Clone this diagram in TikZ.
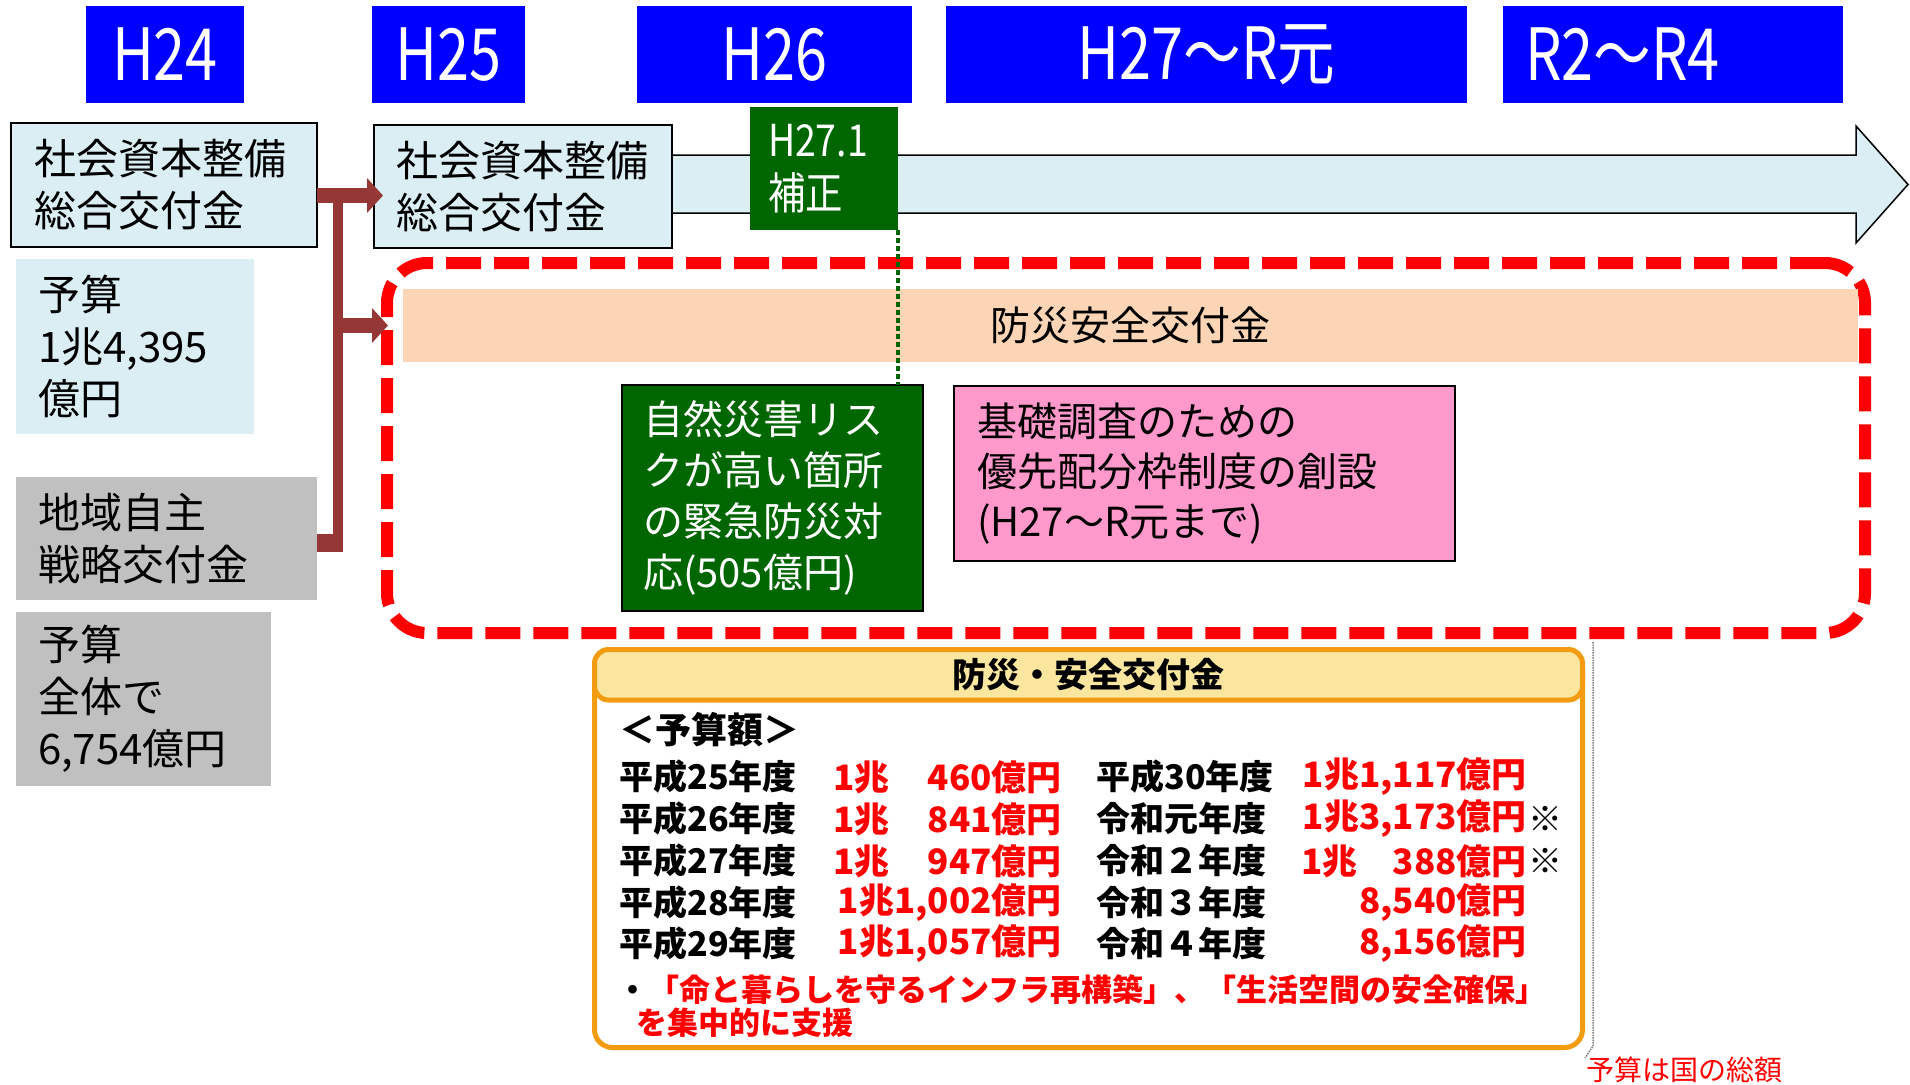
\documentclass[tikz,border=0pt]{standalone}
\usepackage{fontspec}
\setmainfont{Noto Sans CJK JP}
\newfontfamily\narrowjp[FakeStretch=0.85]{Noto Sans CJK JP}
\newfontfamily\yearjp[FakeStretch=0.8]{Noto Sans CJK JP}
\usetikzlibrary{arrows.meta}

\definecolor{yearblue}{RGB}{0,0,255}
\definecolor{paleblue}{RGB}{218,238,243}
\definecolor{boxgray}{RGB}{192,192,192}
\definecolor{darkgreen}{RGB}{0,102,0}
\definecolor{peach}{RGB}{251,213,181}
\definecolor{kisopink}{RGB}{255,153,204}
\definecolor{linkbrown}{RGB}{149,55,53}
\definecolor{frameorange}{RGB}{243,156,18}
\definecolor{headyellow}{RGB}{251,230,160}

\tikzset{every picture/.style={line width=0.75pt}}

\begin{document}
\begin{tikzpicture}[x=1pt,y=1pt,yscale=-1,
  yearbox/.style={anchor=north west, fill=yearblue, text=white, inner sep=0pt, outer sep=0pt, minimum height=97, font=\yearjp\fontsize{72}{72}\selectfont},
  infobox/.style={anchor=north west, align=left, inner ysep=0pt, outer sep=0pt, font=\fontsize{42}{52}\selectfont},
  dashframe/.style={anchor=north west, draw=red, line width=12, dash pattern=on 35pt off 13pt, rounded corners=40pt, inner sep=0pt, outer sep=0pt},
  feed/.style={linkbrown, line width=15, -{Triangle[length=16pt,width=34pt]}},
  trunk/.style={linkbrown, line width=10},
  stub/.style={linkbrown, line width=18},
  leader/.style={darkgreen, line width=4.5, dash pattern=on 4.5pt off 3.5pt},
  rowlab/.style={anchor=west, inner sep=0pt, font=\bfseries\fontsize{34}{34}\selectfont},
  rowval/.style={rowlab, text=red, font=\bfseries\fontsize{35}{35}\selectfont}]
	\useasboundingbox (0,0) rectangle (1910,1084);

	%Shape: Right Arrow [id:timeline]
	\draw [fill=paleblue, line width=1.5] (600,155) -- (1856,155) -- (1856,126) -- (1908,184.5) -- (1856,243) -- (1856,213) -- (600,213) -- cycle ;

	% Text Node
	\node (h24) [yearbox, minimum width=158] at (86,6) {H24};
	% Text Node
	\node (h25) [yearbox, minimum width=153] at (372,6) {H25};
	% Text Node
	\node (h26) [yearbox, minimum width=275] at (637,6) {H26};
	% Text Node
	\node (h27) [yearbox, minimum width=521] at (946,6) {H27～R元};
	% Text Node
	\node (r2) [yearbox, text width=296, inner xsep=22, align=left] at (1503,6) {R2～R4};

	% Text Node
	\node (cs1) [infobox, fill=paleblue, draw, line width=2, minimum height=124, text width=260, inner xsep=23] at (11,123) {社会資本整備\\総合交付金};
	% Text Node
	\node (cs2) [infobox, fill=paleblue, draw, line width=2, minimum height=123, text width=254, inner xsep=22] at (374,125) {社会資本整備\\総合交付金};
	% Text Node
	\node (hosei) [infobox, fill=darkgreen, text=white, minimum height=123, text width=112, inner xsep=18, font=\narrowjp\fontsize{44}{53}\selectfont] at (750,107) {H27.1\\補正};

	% Text Node
	\node (yosan1) [infobox, fill=paleblue, minimum height=175, text width=194, inner xsep=22, font=\fontsize{42}{52}\selectfont] at (16,259) {予算\\1兆4,395\\億円};
	% Text Node
	\node (chiiki) [infobox, fill=boxgray, minimum height=123, text width=257, inner xsep=22] at (16,477) {地域自主\\戦略交付金};
	% Text Node
	\node (yosan2) [infobox, fill=boxgray, minimum height=174, text width=211, inner xsep=22] at (16,612) {予算\\全体で\\6,754億円};

	%Rounded Rect [id:zone]
	\node (zone) [dashframe, minimum width=1478, minimum height=370] at (387,263) {};
	% Text Node
	\node (band) [anchor=north west, fill=peach, minimum width=1455, minimum height=73, inner sep=0pt, outer sep=0pt, font=\fontsize{40}{40}\selectfont] at (403,289) {防災安全交付金};
	% Text Node
	\node (kinkyu) [infobox, fill=darkgreen, draw, line width=2, text=white, minimum height=226, text width=259, inner xsep=21, font=\fontsize{40}{51}\selectfont] at (622,385) {自然災害リス\\クが高い箇所\\の緊急防災対\\応(505億円)};
	% Text Node
	\node (kiso) [infobox, fill=kisopink, draw, line width=2, minimum height=175, text width=455, inner xsep=23, font=\fontsize{40}{50}\selectfont] at (954,386) {基礎調査のための\\優先配分枠制度の創設\\(H27～R元まで)};

	% Connection
	\coordinate (split) at (338,188);
	\coordinate (turn) at (338,552);
	\draw [trunk] (split) -- (turn);
	\draw [stub] ([yshift=4.5]chiiki.east) -- ++(25,0);
	\draw [feed] ([yshift=10.5]cs1.east) -- ([xshift=9,yshift=9]cs2.west);
	\draw [feed] (split |- band.west) -- ([xshift=-15]band.west);
	% Connection
	\draw [leader] (hosei.south east) -- (hosei.south east |- kinkyu.north);

	%Rounded Rect [id:budget]
	\node (budget) [anchor=north west, draw=frameorange, fill=white, line width=5, rounded corners=18pt, minimum width=988, minimum height=398, inner sep=0pt, outer sep=0pt] at (594.5,649.5) {};
	\node (tabhead) [anchor=north west, draw=frameorange, fill=headyellow, line width=5, rounded corners=14pt, minimum width=988, minimum height=50.5, inner sep=0pt, outer sep=0pt, font=\bfseries\fontsize{34}{34}\selectfont] at (594.5,649.5) {防災・安全交付金};
	\draw [gray, densely dotted, line width=1.5] (1593,642) -- (1593,1046) -- (1585,1058);

	% Text Node
	\node (yosangaku) [rowlab, font=\bfseries\fontsize{36}{36}\selectfont] at (619,730) {＜予算額＞};
	% Text Node
	\node (y25) [rowlab] at (619,777) {平成25年度};
	\node (c25) [rowval] at (833,777) {1兆};
	\node (v25) [rowval, anchor=east] at (1062,777) {460億円};
	% Text Node
	\node (y26) [rowlab] at (619,819) {平成26年度};
	\node (c26) [rowval] at (833,819) {1兆};
	\node (v26) [rowval, anchor=east] at (1062,819) {841億円};
	% Text Node
	\node (y27) [rowlab] at (619,861) {平成27年度};
	\node (c27) [rowval] at (833,861) {1兆};
	\node (v27) [rowval, anchor=east] at (1062,861) {947億円};
	% Text Node
	\node (y28) [rowlab] at (619,903) {平成28年度};
	\node (v28) [rowval, anchor=east] at (1062,903) {1兆1,002億円};
	% Text Node
	\node (y29) [rowlab] at (619,944) {平成29年度};
	\node (v29) [rowval, anchor=east] at (1062,944) {1兆1,057億円};

	% Text Node
	\node (y30) [rowlab] at (1096,777) {平成30年度};
	\node (v30) [rowval, anchor=east] at (1527,777) {1兆1,117億円};
	% Text Node
	\node (r01) [rowlab] at (1096,819) {令和元年度};
	\node (w01) [rowval, anchor=east] at (1527,819) {1兆3,173億円};
	\node (m01) [rowlab] at (1528,819) {※};
	% Text Node
	\node (r02) [rowlab] at (1096,861) {令和２年度};
	\node (c02) [rowval] at (1301,861) {1兆};
	\node (w02) [rowval, anchor=east] at (1527,861) {388億円};
	\node (m02) [rowlab] at (1528,861) {※};
	% Text Node
	\node (r03) [rowlab] at (1096,903) {令和３年度};
	\node (w03) [rowval, anchor=east] at (1527,903) {8,540億円};
	% Text Node
	\node (r04) [rowlab] at (1096,944) {令和４年度};
	\node (w04) [rowval, anchor=east] at (1527,944) {8,156億円};

	% Text Node
	\node (aim1) [rowlab, text=red, font=\bfseries\fontsize{31}{31}\selectfont] at (617,990) {{\color{black}・}「命と暮らしを守るインフラ再構築」、「生活空間の安全確保」};
	\node (aim2) [rowlab, text=red, font=\bfseries\fontsize{31}{31}\selectfont] at (636,1023) {を集中的に支援};

	% Text Node
	\node (note) [anchor=west, inner sep=0pt, text=red, font=\fontsize{28}{28}\selectfont] at (1586,1070) {予算は国の総額};

\end{tikzpicture}
\end{document}
